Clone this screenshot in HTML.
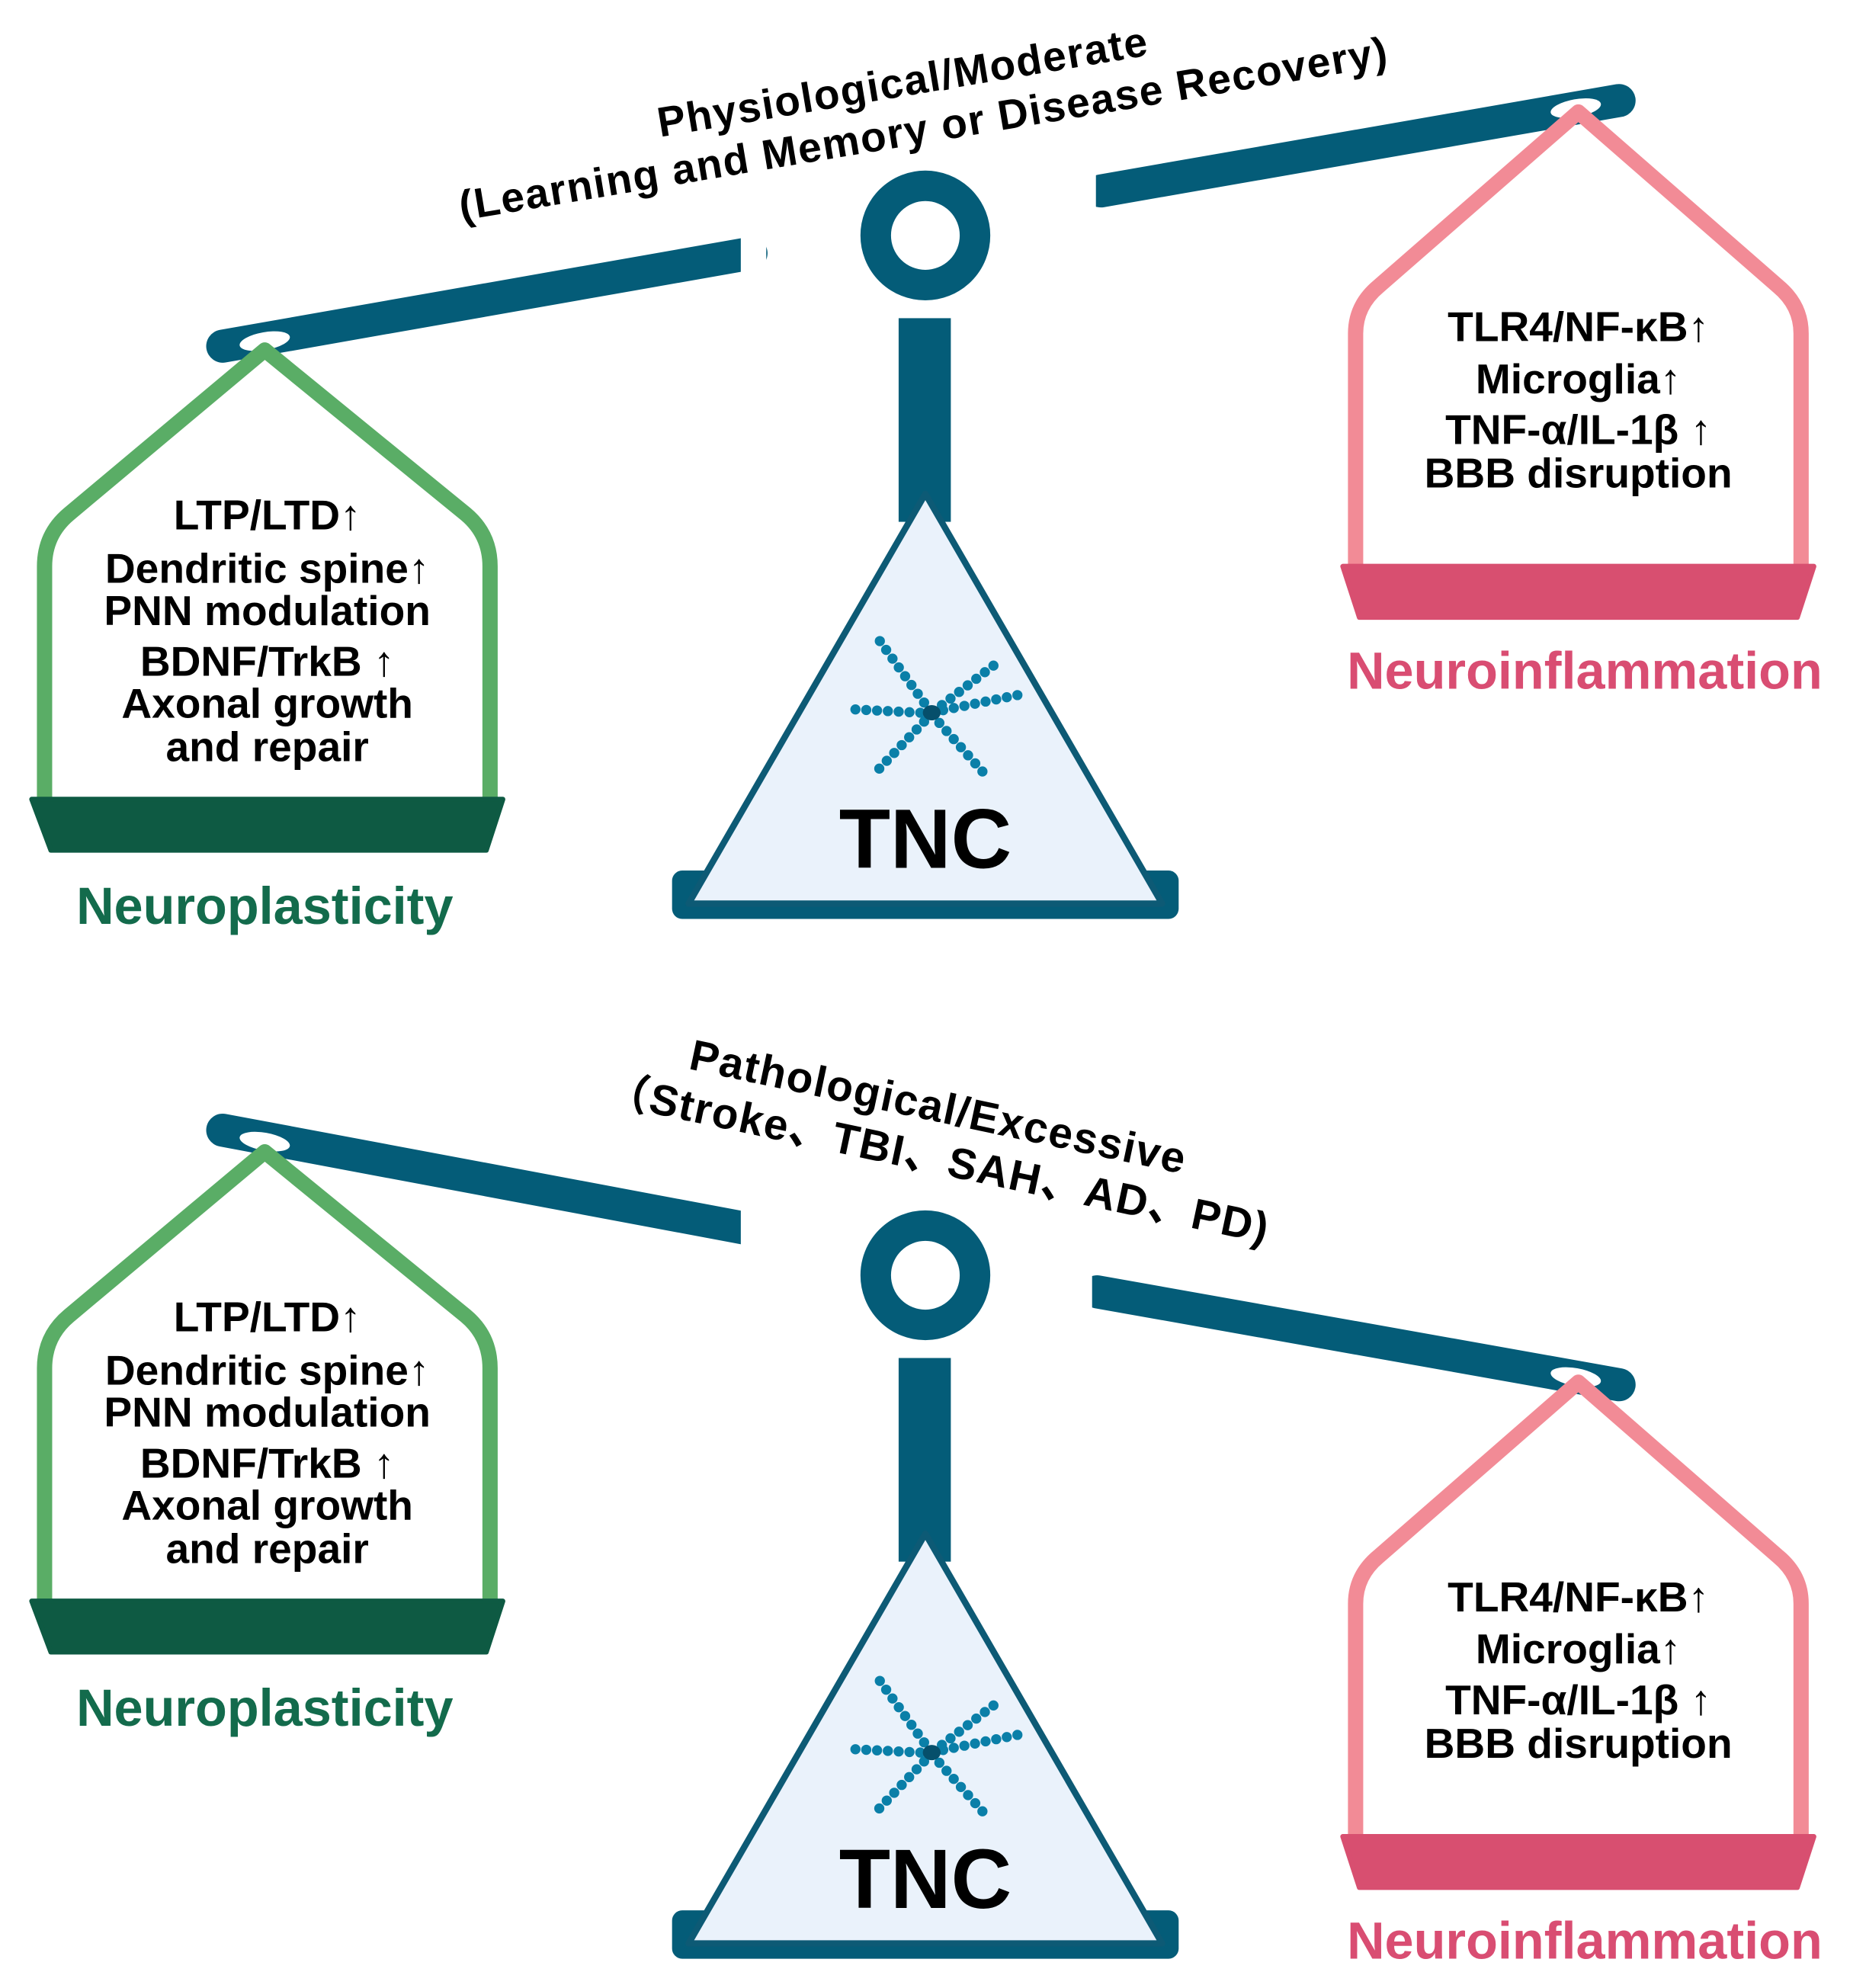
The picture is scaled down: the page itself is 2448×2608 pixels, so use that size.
<!DOCTYPE html>
<html><head><meta charset="utf-8"><style>
html,body{margin:0;padding:0;background:#fff}
svg{display:block}
text{font-family:"Liberation Sans","Noto Sans CJK SC",sans-serif;font-weight:bold}
</style></head><body>
<svg width="2448" height="2608" viewBox="0 0 1466 1562" preserveAspectRatio="none" xmlns="http://www.w3.org/2000/svg">
<defs>
<g id="mol">
  <g stroke="#0a7fa8" stroke-width="8" stroke-linecap="round" stroke-dasharray="0 8.5" fill="none">
    <line x1="-6" y1="-8" x2="-42" y2="-58"/>
    <line x1="8" y1="-6" x2="55" y2="-42"/>
    <line x1="9" y1="-2" x2="68" y2="-14"/>
    <line x1="-9" y1="0" x2="-68" y2="-3"/>
    <line x1="-6" y1="7" x2="-47" y2="50"/>
    <line x1="6" y1="8" x2="45" y2="52"/>
  </g>
  <ellipse cx="0" cy="0" rx="7" ry="6" fill="#064f6b"/>
</g>
<g id="stand">
  <circle cx="727" cy="185" r="39" fill="none" stroke="#045c78" stroke-width="24"/>
  <rect x="706" y="250" width="41" height="160" fill="#045c78"/>
  <rect x="528" y="684" width="398" height="38" rx="8" fill="#045c78"/>
  <polygon points="727,388 541,710 913,710" fill="#eaf2fb" stroke="#0d5a75" stroke-width="5" stroke-linejoin="round"/>
  <use href="#mol" x="732" y="560"/>
  <text x="727" y="682" font-size="66" text-anchor="middle" fill="#000">TNC</text>
</g>
<g id="lhouse">
  <path d="M35,632 L35,445 Q35,420 54,404 L208,275 L366,404 Q385,420 385,445 L385,632" fill="none" stroke="#5aad66" stroke-width="12" stroke-linejoin="round"/>
  <path d="M25,628 L395,628 L382,668 L40,668 Z" fill="#0e5a43" stroke="#0e5a43" stroke-width="4" stroke-linejoin="round"/>
  <g font-size="33" text-anchor="middle" fill="#000">
    <text x="210" y="416">LTP/LTD↑</text>
    <text x="210" y="458">Dendritic spine↑</text>
    <text x="210" y="491">PNN modulation</text>
    <text x="210" y="531">BDNF/TrkB ↑</text>
    <text x="210" y="564">Axonal growth</text>
    <text x="210" y="598">and repair</text>
  </g>
  <text x="208" y="726" font-size="41" text-anchor="middle" fill="#136b4c">Neuroplasticity</text>
</g>
<g id="rhouse">
  <path d="M1065,447 L1065,262 Q1065,240 1083,225 L1240,88 L1397,225 Q1415,240 1415,262 L1415,447" fill="none" stroke="#f28b96" stroke-width="12" stroke-linejoin="round"/>
  <path d="M1055,445 L1425,445 L1412,485 L1068,485 Z" fill="#d84f70" stroke="#d84f70" stroke-width="4" stroke-linejoin="round"/>
  <g font-size="33" text-anchor="middle" fill="#000">
    <text x="1240" y="268">TLR4/NF-κB↑</text>
    <text x="1240" y="309">Microglia↑</text>
    <text x="1240" y="349">TNF-α/IL-1β ↑</text>
    <text x="1240" y="383">BBB disruption</text>
  </g>
  <text x="1245" y="541" font-size="41" text-anchor="middle" fill="#d94d72">Neuroinflammation</text>
</g>
</defs>

<!-- TOP PANEL -->
<line x1="175" y1="272" x2="590" y2="199" stroke="#045c78" stroke-width="26" stroke-linecap="round"/>
<circle cx="727" cy="185" r="135" fill="none" stroke="#fff" stroke-width="0"/>
<rect x="582" y="170" width="20" height="60" fill="#fff"/>
<line x1="865" y1="150" x2="1272" y2="79" stroke="#045c78" stroke-width="26" stroke-linecap="round"/>
<rect x="848" y="125" width="13" height="60" fill="#fff"/>
<ellipse cx="208" cy="268" rx="20" ry="7" fill="#fff" transform="rotate(-10 208 268)"/>
<ellipse cx="1238" cy="85" rx="20" ry="7" fill="#fff" transform="rotate(-10 1238 85)"/>
<use href="#stand"/>
<use href="#lhouse"/>
<use href="#rhouse"/>
<g transform="rotate(-9.5 720 80)" font-size="33" text-anchor="middle" fill="#000" letter-spacing="1">
  <text x="712" y="74">Physiological/Moderate</text>
  <text x="722" y="113">(Learning and Memory or Disease Recovery)</text>
</g>

<!-- BOTTOM PANEL -->
<line x1="175" y1="888" x2="585" y2="965" stroke="#045c78" stroke-width="26" stroke-linecap="round"/>
<rect x="582" y="935" width="20" height="60" fill="#fff"/>
<line x1="862" y1="1015" x2="1272" y2="1088" stroke="#045c78" stroke-width="26" stroke-linecap="round"/>
<rect x="845" y="990" width="13" height="60" fill="#fff"/>
<ellipse cx="208" cy="897" rx="20" ry="7" fill="#fff" transform="rotate(10 208 897)"/>
<ellipse cx="1238" cy="1082" rx="20" ry="7" fill="#fff" transform="rotate(10 1238 1082)"/>
<use href="#stand" y="817"/>
<use href="#lhouse" y="630"/>
<use href="#rhouse" y="998"/>
<g transform="rotate(12 738 895)" font-size="34" text-anchor="middle" fill="#000" letter-spacing="1">
  <text x="732" y="882">Pathological/Excessive</text>
  <text x="740" y="922">（Stroke、TBI、SAH、AD、PD)</text>
</g>
</svg>
</body></html>
